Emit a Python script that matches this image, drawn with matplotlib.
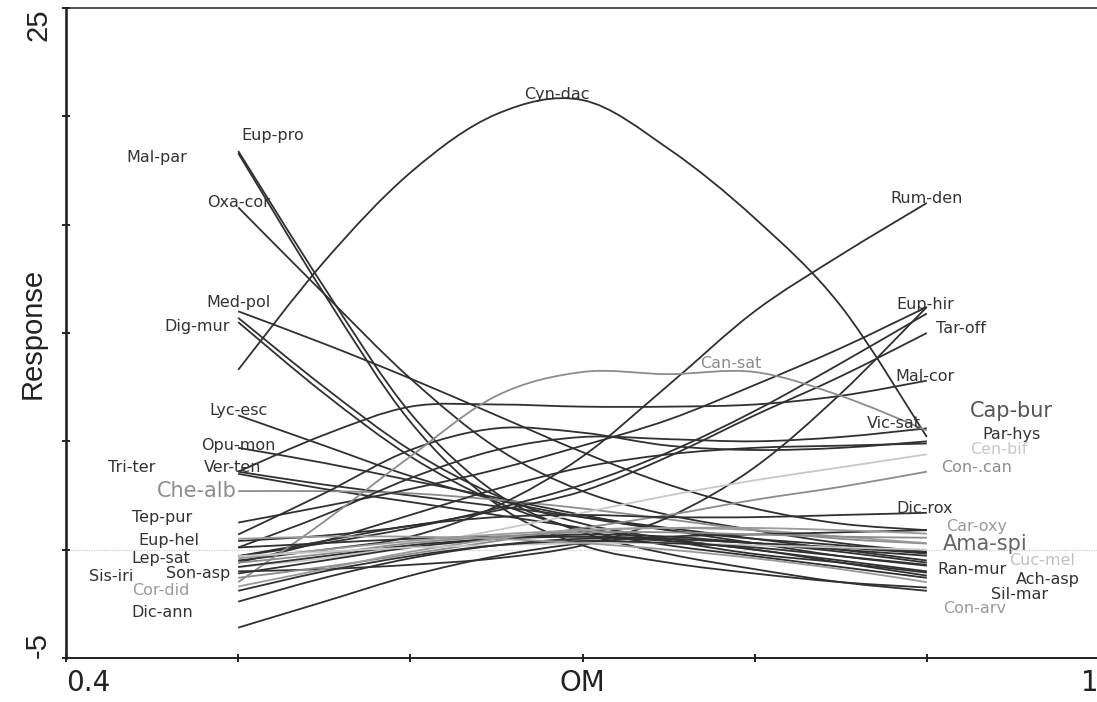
import matplotlib
matplotlib.use("Agg")
import matplotlib.pyplot as plt
from matplotlib.path import Path
from matplotlib.patches import PathPatch

# organic matter gradient where each response curve is evaluated
om = [0.50, 0.55, 0.60, 0.65, 0.70, 0.75, 0.80, 0.85, 0.90]

# fitted species responses along OM
mal_par = [18.4, 12.1, 6.3, 2.6, 0.8, -0.2, -0.9, -1.5, -1.9]
eup_pro = [18.3, 11.8, 5.9, 2.1, 0.2, -0.6, -1.1, -1.5, -1.75]
oxa_cor = [15.8, 11.8, 7.9, 4.7, 2.7, 1.6, 0.9, 0.3, -0.1]
med_pol = [11.0, 9.5, 7.9, 6.2, 4.5, 3.0, 1.9, 1.2, 0.9]
dig_mur = [10.7, 7.5, 4.6, 2.5, 1.2, 0.5, 0.0, -0.5, -1.0]
ach_asp = [10.5, 7.2, 4.3, 2.2, 0.9, 0.2, -0.3, -0.8, -1.3]
lyc_esc = [6.2, 4.8, 3.4, 2.3, 1.5, 0.9, 0.5, 0.2, -0.14]
opu_mon = [4.7, 4.0, 3.2, 2.4, 1.6, 0.9, 0.3, -0.3, -0.74]
ver_ten = [3.6, 3.0, 2.5, 2.0, 1.5, 1.0, 0.5, 0.0, -0.5]
tri_ter = [3.5, 2.8, 2.2, 1.6, 1.0, 0.4, -0.2, -0.6, -1.06]
che_alb = [2.7, 2.7, 2.6, 2.3, 1.9, 1.4, 0.9, 0.5, 0.28]
mal_cor = [3.6, 5.3, 6.6, 6.7, 6.6, 6.6, 6.7, 7.1, 7.8]
cyn_dac = [8.3, 13.3, 17.4, 20.1, 20.75, 18.5, 15.3, 11.25, 5.2]
rum_den = [-0.5, 0.0, 0.6, 2.0, 4.3, 7.6, 11.0, 13.6, 16.0]
eup_hir = [-1.0, -0.9, -0.7, -0.4, 0.2, 1.5, 3.8, 7.2, 11.2]
tep_pur = [1.25, 2.0, 2.8, 3.7, 4.8, 6.0, 7.6, 9.3, 11.2]
eup_hel = [-0.3, 0.3, 1.0, 1.9, 3.0, 4.5, 6.4, 8.6, 10.9]
tar_off = [0.4, 0.65, 1.1, 1.8, 2.7, 4.3, 6.2, 8.0, 10.0]
vic_sat = [0.1, 1.6, 3.3, 4.6, 5.2, 5.1, 5.0, 5.2, 5.6]
par_hys = [0.7, 2.6, 4.6, 5.6, 5.4, 4.8, 4.6, 4.7, 5.0]
cap_bur = [-0.6, 0.4, 1.6, 2.8, 3.8, 4.4, 4.7, 4.8, 4.9]
cen_bif = [-0.8, -0.4, 0.2, 0.9, 1.7, 2.5, 3.2, 3.8, 4.4]
con_can = [-1.3, -0.8, -0.2, 0.4, 1.0, 1.6, 2.3, 2.9, 3.6]
dic_rox = [-0.3, 0.4, 1.1, 1.5, 1.6, 1.5, 1.5, 1.6, 1.7]
can_sat = [-1.5, 1.3, 4.3, 7.1, 8.2, 8.1, 8.2, 7.1, 5.5]
lep_sat = [0.1, 0.3, 0.5, 0.6, 0.6, 0.5, 0.3, 0.1, -0.18]
sis_iri = [-0.8, -0.3, 0.2, 0.5, 0.6, 0.5, 0.3, 0.0, -0.28]
son_asp = [-1.1, -0.5, 0.1, 0.5, 0.7, 0.6, 0.3, -0.1, -0.6]
cor_did = [-1.7, -0.9, -0.1, 0.5, 0.9, 1.0, 0.9, 0.6, 0.3]
dic_ann = [-3.6, -2.4, -1.2, -0.3, 0.3, 0.6, 0.7, 0.8, 0.9]
car_oxy = [-0.4, 0.0, 0.4, 0.7, 0.9, 1.0, 1.0, 0.9, 0.74]
ama_spi = [-0.6, -0.2, 0.3, 0.6, 0.8, 0.8, 0.7, 0.6, 0.55]
cuc_mel = [-0.3, -0.1, 0.1, 0.2, 0.3, 0.3, 0.2, 0.1, 0.0]
ran_mur = [-1.9, -1.0, -0.3, 0.2, 0.4, 0.3, 0.1, -0.3, -0.7]
sil_mar = [-2.4, -1.3, -0.4, 0.2, 0.5, 0.4, 0.0, -0.6, -1.2]
con_arv = [0.5, 0.6, 0.6, 0.5, 0.3, 0.0, -0.4, -0.9, -1.5]

curves = [
    ("Mal-par", mal_par), ("Eup-pro", eup_pro), ("Oxa-cor", oxa_cor),
    ("Med-pol", med_pol), ("Dig-mur", dig_mur), ("Ach-asp", ach_asp),
    ("Lyc-esc", lyc_esc), ("Opu-mon", opu_mon), ("Ver-ten", ver_ten),
    ("Tri-ter", tri_ter), ("Che-alb", che_alb), ("Mal-cor", mal_cor),
    ("Cyn-dac", cyn_dac), ("Rum-den", rum_den), ("Eup-hir", eup_hir),
    ("Tep-pur", tep_pur), ("Eup-hel", eup_hel), ("Tar-off", tar_off),
    ("Vic-sat", vic_sat), ("Par-hys", par_hys), ("Cap-bur", cap_bur),
    ("Cen-bif", cen_bif), ("Con-.can", con_can), ("Dic-rox", dic_rox),
    ("Can-sat", can_sat), ("Lep-sat", lep_sat), ("Sis-iri", sis_iri),
    ("Son-asp", son_asp), ("Cor-did", cor_did), ("Dic-ann", dic_ann),
    ("Car-oxy", car_oxy), ("Ama-spi", ama_spi), ("Cuc-mel", cuc_mel),
    ("Ran-mur", ran_mur), ("Sil-mar", sil_mar), ("Con-arv", con_arv),
]

# where each species name is written (OM, Response)
label_at = {
    "Mal-par": (0.453, 18.1), "Eup-pro": (0.520, 19.1), "Oxa-cor": (0.500, 16.0),
    "Med-pol": (0.500, 11.4), "Dig-mur": (0.476, 10.3), "Lyc-esc": (0.500, 6.4),
    "Opu-mon": (0.500, 4.8), "Tri-ter": (0.438, 3.8), "Ver-ten": (0.497, 3.8),
    "Che-alb": (0.476, 2.7), "Tep-pur": (0.456, 1.5), "Eup-hel": (0.460, 0.4),
    "Lep-sat": (0.455, -0.4), "Sis-iri": (0.426, -1.25), "Son-asp": (0.477, -1.1),
    "Cor-did": (0.455, -1.9), "Dic-ann": (0.456, -2.9), "Cyn-dac": (0.685, 21.0),
    "Can-sat": (0.786, 8.6), "Rum-den": (0.900, 16.2), "Eup-hir": (0.899, 11.3),
    "Tar-off": (0.920, 10.2), "Mal-cor": (0.899, 8.0), "Cap-bur": (0.949, 6.4),
    "Vic-sat": (0.881, 5.8), "Par-hys": (0.949, 5.3), "Cen-bif": (0.942, 4.6),
    "Con-.can": (0.929, 3.8), "Dic-rox": (0.899, 1.9), "Car-oxy": (0.929, 1.05),
    "Ama-spi": (0.934, 0.25), "Cuc-mel": (0.967, -0.5), "Ran-mur": (0.926, -0.9),
    "Ach-asp": (0.970, -1.4), "Sil-mar": (0.954, -2.05), "Con-arv": (0.928, -2.7),
}

line_grey = {"Che-alb": "#8c8c8c", "Can-sat": "#8c8c8c", "Cor-did": "#9a9a9a",
             "Cen-bif": "#c8c8c8", "Con-.can": "#8c8c8c", "Car-oxy": "#9a9a9a",
             "Ama-spi": "#8c8c8c", "Cuc-mel": "#c8c8c8", "Con-arv": "#9a9a9a"}
text_grey = {"Che-alb": "#8c8c8c", "Can-sat": "#8c8c8c", "Cor-did": "#9a9a9a",
             "Cap-bur": "#555555", "Cen-bif": "#c8c8c8", "Con-.can": "#8c8c8c",
             "Car-oxy": "#9a9a9a", "Ama-spi": "#666666", "Cuc-mel": "#c0c0c0",
             "Con-arv": "#9a9a9a"}
big_names = {"Che-alb", "Cap-bur", "Ama-spi"}


def smooth_path(xs, ys):
    # Catmull-Rom through the fitted points, written as cubic Bezier segments
    pts = list(zip(xs, ys))
    n = len(pts)
    verts = [pts[0]]
    codes = [Path.MOVETO]
    for i in range(n - 1):
        p0 = pts[i - 1] if i > 0 else pts[i]
        p1, p2 = pts[i], pts[i + 1]
        p3 = pts[i + 2] if i + 2 < n else pts[i + 1]
        c1 = (p1[0] + (p2[0] - p0[0]) / 6, p1[1] + (p2[1] - p0[1]) / 6)
        c2 = (p2[0] - (p3[0] - p1[0]) / 6, p2[1] - (p3[1] - p1[1]) / 6)
        verts += [c1, c2, p2]
        codes += [Path.CURVE4] * 3
    return Path(verts, codes)


plt.rcParams["font.family"] = ["DejaVu Sans"]
arial = ["Liberation Sans", "DejaVu Sans"]

fig = plt.figure(figsize=(10.97, 7.02), dpi=100)
ax = fig.add_axes([0.0602, 0.0627, 0.9416, 0.9259])

ax.axhline(0, color="#cfcfcf", lw=0.9, ls=(0, (1, 1)), zorder=1)

for name, resp in curves:
    ax.add_patch(PathPatch(smooth_path(om, resp), fill=False, lw=1.3,
                           edgecolor=line_grey.get(name, "#303030"), zorder=2))

for name, _ in curves:
    x, y = label_at[name]
    ax.text(x, y, name, ha="center", va="center",
            fontsize=15 if name in big_names else 11.5,
            color=text_grey.get(name, "#333333"), zorder=3)

ax.set_xlim(0.4, 1.0)
ax.set_ylim(-5, 25)
ax.set_xticks([0.4, 0.5, 0.6, 0.7, 0.8, 0.9, 1.0])
ax.set_xticklabels(["0.4", "", "", "OM", "", "", "1"], fontsize=20, color="#222222")
xl = ax.get_xticklabels()
xl[0].set_ha("left")
xl[-1].set_ha("right")
ax.set_yticks([-5, 0, 5, 10, 15, 20, 25])
ax.set_yticklabels(["-5", "", "", "", "", "", "25"], fontsize=21, family=arial,
                   rotation=90, color="#222222")
yl = ax.get_yticklabels()
yl[0].set_va("bottom")
yl[-1].set_va("top")
ax.tick_params(axis="both", direction="inout", length=6, width=1.4, color="#222222")
ax.tick_params(axis="x", pad=5)
ax.tick_params(axis="y", pad=7)
ax.set_ylabel("Response", fontsize=21, family=arial, color="#222222")
ax.yaxis.set_label_coords(-0.019, 0.5)

ax.spines["right"].set_visible(False)
ax.spines["left"].set_linewidth(1.9)
ax.spines["bottom"].set_linewidth(1.4)
ax.spines["top"].set_linewidth(1.1)
for s in ("left", "bottom", "top"):
    ax.spines[s].set_color("#222222")

fig.savefig("out.png", dpi=100)
